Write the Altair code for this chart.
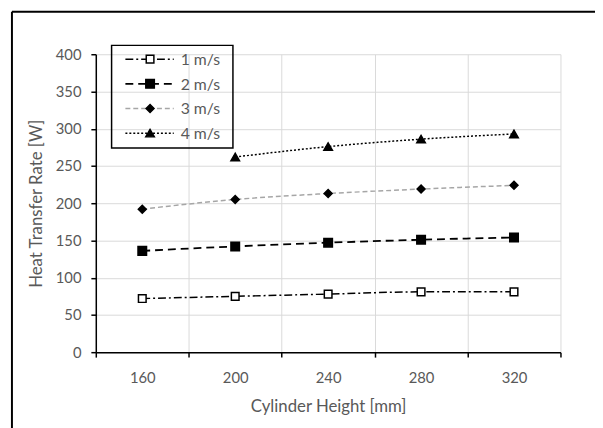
import altair as alt
import pandas as pd

heights = ["160", "200", "240", "280", "320"]
series_names = ["1 m/s", "2 m/s", "3 m/s", "4 m/s"]
s1 = [72, 75, 78, 81, 81]
s2 = [136, 142, 147, 151, 154]
s3 = [192, 205, 213, 219, 224]
s4 = [None, 262, 276, 286, 293]
all_series = [s1, s2, s3, s4]

colors = ["black", "black", "#a6a6a6", "black"]
dashes = [[8, 3, 2, 3], [8, 5], [5, 3], [2, 2]]
widths = [1.5, 1.8, 1.5, 1.5]
shapes = ["square", "square", "diamond", "triangle-up"]
fills = ["white", "black", "black", "black"]
sizes = [60, 75, 65, 75]

rows = []
for name, vals in zip(series_names, all_series):
    for h, v in zip(heights, vals):
        if v is not None:
            rows.append({"series": name, "height": h, "value": v})
df = pd.DataFrame(rows)

TXT = "#595959"
FONT = "Lato"

xenc = alt.X(
    "height:O",
    sort=heights,
    scale=alt.Scale(type="band", domain=heights, paddingInner=0, paddingOuter=0),
    axis=alt.Axis(
        title="Cylinder Height [mm]", tickBand="extent", labelAngle=0,
        domainColor="black", domainWidth=1.5, tickColor="black", tickWidth=1.5,
        tickSize=5, gridColor="#d9d9d9", grid=True, labelPadding=14,
        titlePadding=13, labelColor=TXT, titleColor=TXT, labelFontSize=15,
        titleFontSize=17, titleFontWeight="normal", labelFont=FONT, titleFont=FONT,
    ),
)
yenc = alt.Y(
    "value:Q",
    scale=alt.Scale(domain=[0, 400], nice=False),
    axis=alt.Axis(
        title="Heat Transfer Rate [W]", values=list(range(0, 401, 50)),
        domainColor="black", domainWidth=1.5, tickColor="black", tickWidth=1.5,
        tickSize=5, gridColor="#d9d9d9", labelPadding=10, titlePadding=10,
        labelColor=TXT, titleColor=TXT, labelFontSize=15, titleFontSize=17,
        titleFontWeight="normal", labelFont=FONT, titleFont=FONT,
    ),
)

base = alt.Chart(df)
layers = []
for i, name in enumerate(series_names):
    sub = base.transform_filter(alt.datum.series == name)
    layers.append(
        sub.mark_line(
            color=colors[i], strokeDash=dashes[i], strokeWidth=widths[i],
            interpolate="monotone",
        ).encode(x=xenc, y=yenc)
    )
for i, name in enumerate(series_names):
    sub = base.transform_filter(alt.datum.series == name)
    layers.append(
        sub.mark_point(
            shape=shapes[i], filled=True, fill=fills[i], stroke="black",
            strokeWidth=1.5, size=sizes[i], opacity=1,
        ).encode(x=xenc, y=yenc)
    )

one = pd.DataFrame({"k": [0]})
# legend box
layers.append(
    alt.Chart(one).mark_rect(fillOpacity=0, stroke="black", strokeWidth=1.5).encode(
        x=alt.value(16), x2=alt.value(139), y=alt.value(-9), y2=alt.value(95)
    )
)
for i, name in enumerate(series_names):
    yy = 5 + 25 * i
    layers.append(
        alt.Chart(one).mark_rule(
            color=colors[i], strokeDash=dashes[i], strokeWidth=widths[i]
        ).encode(x=alt.value(30), x2=alt.value(79), y=alt.value(yy))
    )
    layers.append(
        alt.Chart(one).mark_point(
            shape=shapes[i], filled=True, fill=fills[i], stroke="black",
            strokeWidth=1.5, size=sizes[i], opacity=1,
        ).encode(x=alt.value(55), y=alt.value(yy))
    )
    layers.append(
        alt.Chart(one).mark_text(
            align="left", baseline="middle", fontSize=16, color=TXT, font=FONT
        ).encode(x=alt.value(86), y=alt.value(yy + 1), text=alt.value(name))
    )

# outer frame (top and left edges)
layers.append(
    alt.Chart(one).mark_rule(color="black", strokeWidth=2).encode(
        x=alt.value(-85), x2=alt.value(520), y=alt.value(-43)
    )
)
layers.append(
    alt.Chart(one).mark_rule(color="black", strokeWidth=2).encode(
        x=alt.value(-85), y=alt.value(-43), y2=alt.value(380)
    )
)

chart = alt.layer(*layers).properties(
    width=471, height=302,
    padding={"left": 89, "top": 44, "right": 35, "bottom": 76},
    autosize=alt.AutoSizeParams(type="none"),
).configure_view(stroke=None)

chart.save("out.html", embed_options={"renderer": "svg", "actions": False})
